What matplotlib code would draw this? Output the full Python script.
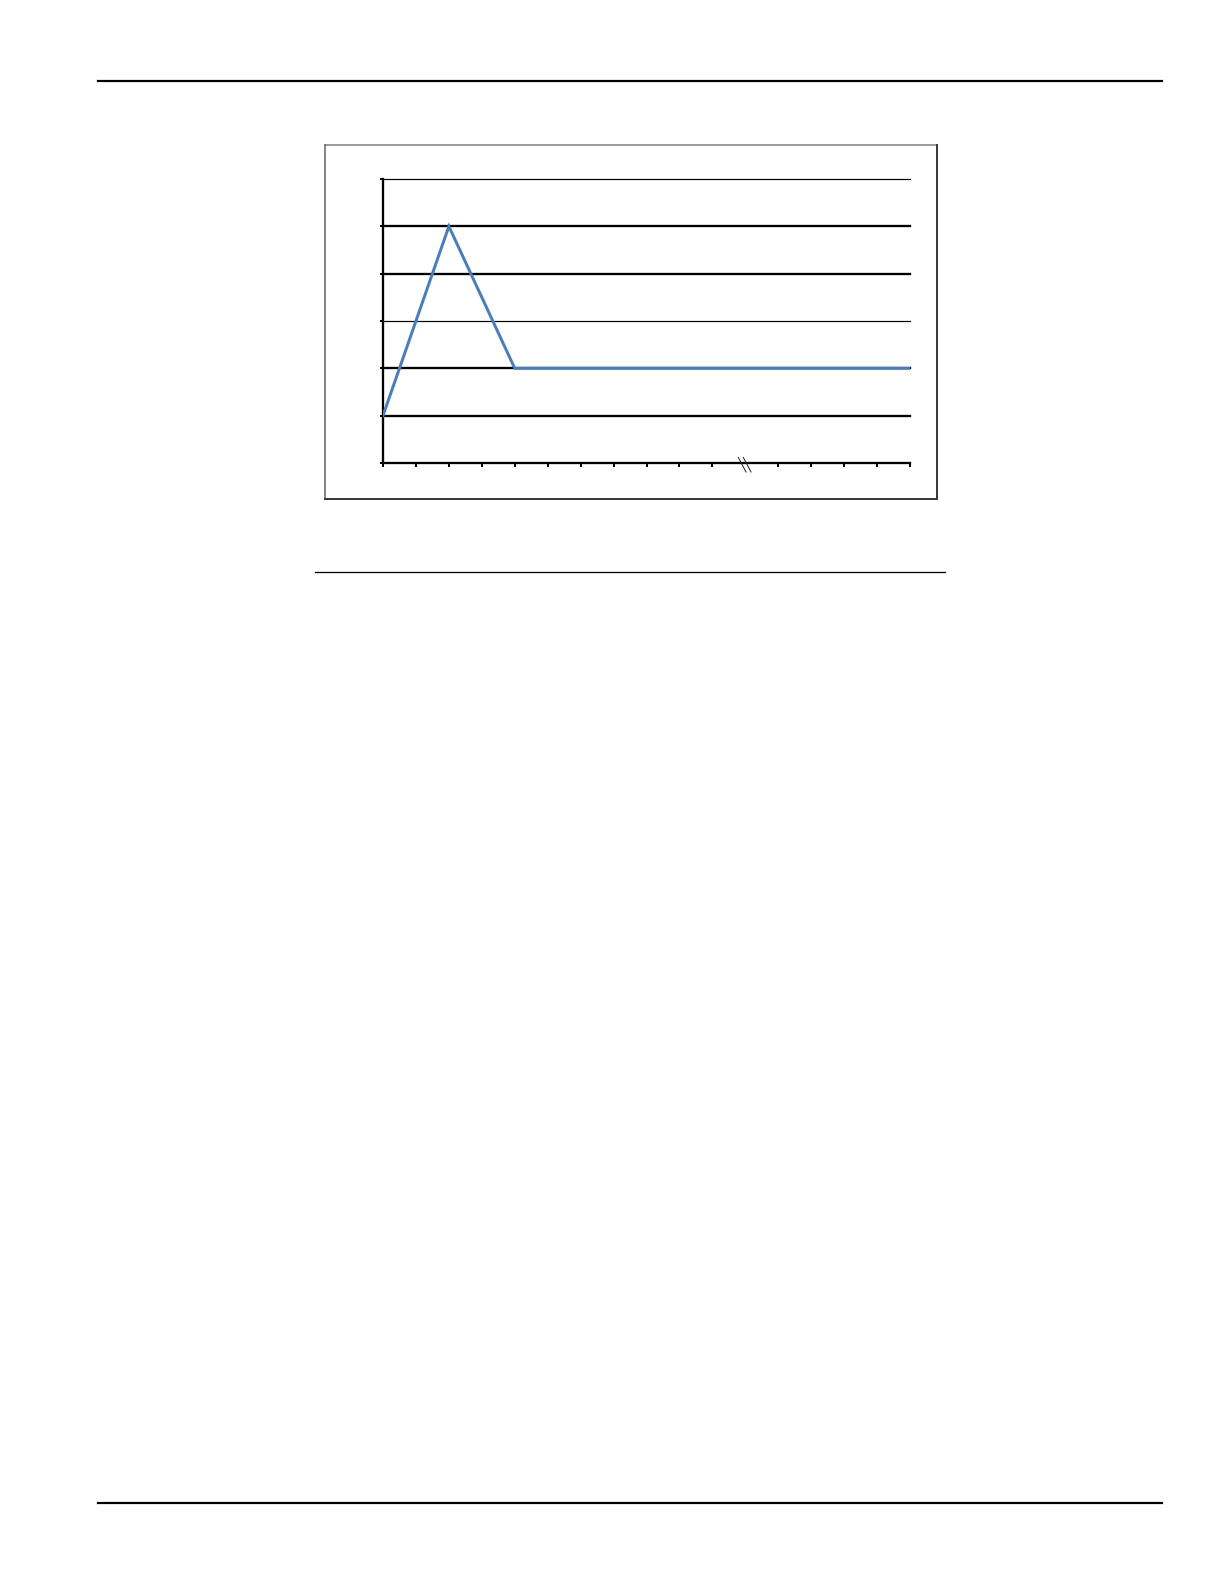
import matplotlib
matplotlib.use('Agg')
import matplotlib.pyplot as plt
from matplotlib.lines import Line2D
from matplotlib.transforms import IdentityTransform

# ---- data ----
x_points = [0, 2, 4, 16]
y_values = [1, 5, 2, 2]
x_ticks = list(range(0, 17))
y_ticks = [0, 1, 2, 3, 4, 5, 6]
break_at = 11

W, H = 1224, 1584
DPI = 100
fig = plt.figure(figsize=(W / DPI, H / DPI), dpi=DPI)
fig.patch.set_facecolor('white')


def fx(px):
    return px / W


def fy(py):
    return 1 - py / H


PX = 72 / DPI  # points per pixel

# page rules
fig.add_artist(Line2D([fx(98), fx(1162)], [fy(81), fy(81)], color='black', lw=2.2 * PX))
fig.add_artist(Line2D([fx(98), fx(1162)], [fy(1503), fy(1503)], color='black', lw=2.2 * PX))
fig.add_artist(Line2D([fx(315), fx(945)], [fy(572), fy(572)], color='black', lw=1.3 * PX))

# chart frame (light top/left, darker shadowed bottom/right)
L, R, T, B = 325, 937, 145, 499
fig.add_artist(Line2D([fx(L), fx(R)], [fy(T), fy(T)], color='#7a7a7a', lw=1.5 * PX))
fig.add_artist(Line2D([fx(L), fx(L)], [fy(T), fy(B)], color='#606060', lw=1.5 * PX))
fig.add_artist(Line2D([fx(R), fx(R)], [fy(T), fy(B)], color='#3a3a3a', lw=2.0 * PX))
fig.add_artist(Line2D([fx(L), fx(R)], [fy(B), fy(B)], color='#3a3a3a', lw=2.0 * PX))

# axes
ax = fig.add_axes([fx(383), fy(463), fx(910) - fx(383), fy(179) - fy(463)])
ax.set_xlim(x_ticks[0], x_ticks[-1])
ax.set_ylim(y_ticks[0], y_ticks[-1])
ax.set_facecolor('none')

thick = {1, 2, 4, 5}
for yv in y_ticks[1:]:
    ax.axhline(yv, color='black', lw=(2.3 if yv in thick else 1.2) * PX, zorder=1, clip_on=False)

ax.plot(x_points, y_values, color='#4A7EBB', lw=3.0 * PX, zorder=3, solid_joinstyle='miter')

for s in ['top', 'right']:
    ax.spines[s].set_visible(False)
for s in ['left', 'bottom']:
    ax.spines[s].set_linewidth(2.3 * PX)
    ax.spines[s].set_color('black')

ax.set_xticks([t for t in x_ticks if t != break_at])
ax.set_yticks(y_ticks)
ax.tick_params(axis='x', direction='out', length=4 * PX, width=2 * PX, labelbottom=False)
ax.tick_params(axis='y', direction='out', length=3 * PX, width=2 * PX, labelleft=False)

# axis break marks
fig.canvas.draw()
cx, cy = ax.transData.transform((break_at, 0))
for dx0 in (-7.0, -2.0):
    ax.add_line(Line2D([cx + dx0, cx + dx0 + 7.7], [cy + 5.5, cy - 9.0],
                       transform=IdentityTransform(), color='#222222', lw=1.0 * PX,
                       clip_on=False, zorder=5))

fig.savefig('out.png', dpi=DPI, facecolor='white')
